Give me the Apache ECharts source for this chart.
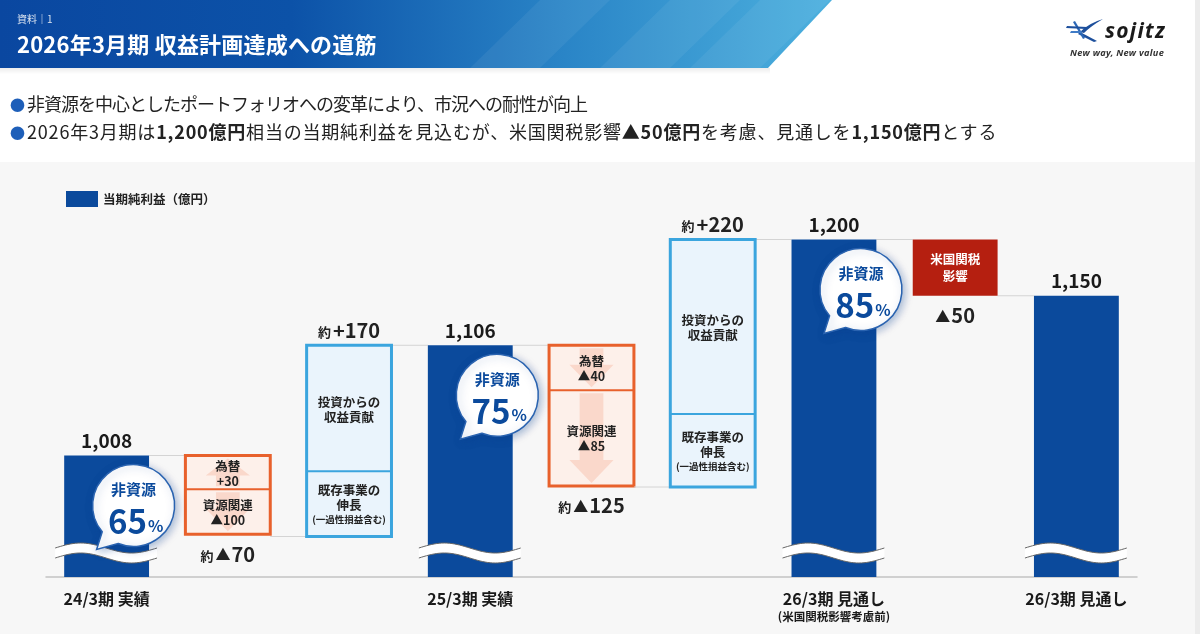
<!DOCTYPE html>
<html lang="ja">
<head>
<meta charset="utf-8">
<title>2026年3月期 収益計画達成への道筋</title>
<script src="https://cdn.jsdelivr.net/npm/echarts@6/dist/echarts.min.js"></script>
<style>
  html, body { margin: 0; padding: 0; width: 1200px; height: 634px; overflow: hidden; background: #fff;
    font-family: "Noto Sans CJK JP", "Noto Sans", sans-serif; color: #222; }
  #head { position: absolute; left: 0; top: 0; width: 832px; height: 68px; z-index: 3;
    background: linear-gradient(90deg, #0a47a0 0%, #0c52a8 35%, #2a85c7 68%, #4cb0de 100%);
    clip-path: polygon(0 0, 832px 0, 768px 68px, 0 68px); }
  #head .stripe { position: absolute; top: 0; height: 68px; width: 200px;
    background: rgba(255,255,255,0.06); clip-path: polygon(70px 0, 140px 0, 70px 68px, 0 68px); }
  #head .sub { position: absolute; left: 17px; top: 11px; font-size: 10px; color: rgba(255,255,255,0.85); }
  #head .title { position: absolute; left: 17px; top: 27px; font-size: 22px; font-weight: bold; color: #fff; letter-spacing: 0.2px; }
  #headShadow { position: absolute; left: 0; top: 68px; width: 770px; height: 6px; z-index: 2;
    background: linear-gradient(to bottom, rgba(0,0,0,0.07), rgba(0,0,0,0)); }
  #logo { position: absolute; left: 1060px; top: 12px; width: 120px; height: 56px; z-index: 3; }
  .bullets { position: absolute; left: 10px; top: 90px; z-index: 3; font-size: 18px; line-height: 27px; color: #222; white-space: nowrap; }
  .bullets .dot { color: #1e5fb9; font-size: 15px; margin-right: 2px; letter-spacing: 0; }
  .bullets .l1 { letter-spacing: -1px; }
  .bullets .l2 { letter-spacing: 0.8px; }
  .bullets b { font-weight: bold; }
  #panel { position: absolute; left: 0; top: 162px; width: 1195px; height: 472px; background: #f7f7f7; z-index: 0; }
  #edge { position: absolute; left: 1195px; top: 0; width: 5px; height: 634px; background: #ececec; z-index: 0; }
  #chart { position: absolute; left: 0; top: 0; width: 1200px; height: 634px; z-index: 1; }
</style>
</head>
<body>
<div id="panel"></div>
<div id="edge"></div>
<div id="head">
  <div class="stripe" style="left:470px"></div>
  <div class="stripe" style="left:600px"></div>
  <div class="stripe" style="left:690px"></div>
  <div class="sub">資料｜1</div>
  <div class="title">2026年3月期 収益計画達成への道筋</div>
</div>
<div id="headShadow"></div>
<svg id="logo" viewBox="0 0 120 56">
  <path d="M43 7 Q29 11 20 20 L24 21 Q31 14 43 7Z" fill="#1d4f9c"/>
  <path d="M20 20 L37 29 L34 30 L18 22Z" fill="#1d4f9c"/>
  <path d="M15 9 L25 26 L23 27 L13 10Z" fill="#2a66b5"/>
  <path d="M7 14 L27 15 L26 17 L6 16Z" fill="#1d4f9c"/>
  <path d="M11 19 L22 19 L21 21 L10 21Z" fill="#3f7bc6"/>
  <text x="45" y="26" font-family="Noto Sans, sans-serif" font-size="21" font-weight="bold" font-style="italic" letter-spacing="1.3" fill="#1a1a1a">sojitz</text>
  <text x="10" y="44" font-family="Noto Sans, sans-serif" font-size="9.2" font-weight="bold" font-style="italic" letter-spacing="0.3" fill="#333">New way, New value</text>
</svg>
<div class="bullets">
  <div><span class="dot">●</span><span class="l1">非資源を中心としたポートフォリオへの変革により、市況への耐性が向上</span></div>
  <div><span class="dot">●</span><span class="l2">2026年3月期は<b>1,200億円</b>相当の当期純利益を見込むが、米国関税影響<b>▲50億円</b>を考慮、見通しを<b>1,150億円</b>とする</span></div>
</div>
<div id="chart"></div>
<script>
// 区分（空欄は増減要因の位置）
const categories = ['24/3期 実績', '', '', '25/3期 実績', '', '', '26/3期 見通し\n(米国関税影響考慮前)', '', '26/3期 見通し'];
// 当期純利益（億円）
const profit = [1008, '-', '-', 1106, '-', '-', 1200, '-', 1150];
// 非資源比率（%）
const nonResourceShare = [65, null, null, 75, null, null, 85, null, null];

// 増減要因
const bridgeIndex = [1, 2, 4, 5, 7];
const bridgeDelta = [-70, 170, -125, 220, -50];
const bridgeLabel = ['約▲70', '約+170', '約▲125', '約+220', '▲50'];
const bridgeKind = ['res', 'inv', 'res', 'inv', 'tariff'];
// 上段の内訳（為替は符号付き、投資は図から読んだ幅）
const bridgeUpper = [30, 112, -40, 155, 0];
const upperText = ['為替\n+30', '投資からの\n収益貢献', '為替\n▲40', '投資からの\n収益貢献', '米国関税\n影響'];
const lowerText = ['資源関連\n▲100', '既存事業の\n伸長\n(一過性損益含む)', '資源関連\n▲85', '既存事業の\n伸長\n(一過性損益含む)', ''];

const yMin = 900, yMax = 1300;
const FONT = '"Noto Sans CJK JP", "Noto Sans", sans-serif';
const BLUE = '#0b4a9c';

const bridgeData = bridgeIndex.map(function (ci, k) {
  const d = bridgeDelta[k];
  let s, e;
  if (profit[ci - 1] !== '-') { s = profit[ci - 1]; e = s + d; }
  else { e = profit[ci + 1]; s = e - d; }
  return [ci, s, e, bridgeUpper[k], k];
});

const totalData = [];
profit.forEach(function (v, i) {
  if (v !== '-') totalData.push([i, v, nonResourceShare[i] || 0]);
});

function deltaRich(t) {
  const m = t.match(/^(約)?(▲)?(.*)$/);
  return (m[1] ? '{s|約}' : '') + (m[2] ? '{t|▲}' : '') + '{b|' + m[3] + '}';
}

function boxRich(t) {
  return t.split('\n').map(function (l) {
    return l.charAt(0) === '(' ? '{c|' + l + '}' : '{a|' + l + '}';
  }).join('\n');
}

function arrowPts(cx, yt, yb, w, up) {
  const sw = w * 0.14, hw = w * 0.26, hh = Math.min(23, (yb - yt) * 0.5);
  const a = yt + 3, b = yb - 3;
  if (!up) {
    return [[cx - sw, a], [cx + sw, a], [cx + sw, b - hh], [cx + hw, b - hh], [cx, b], [cx - hw, b - hh], [cx - sw, b - hh]];
  }
  return [[cx - sw, b], [cx + sw, b], [cx + sw, a + hh], [cx + hw, a + hh], [cx, a], [cx - hw, a + hh], [cx - sw, a + hh]];
}

const boxTextRich = {
  a: { fontSize: 12.5, fontWeight: 'bold', lineHeight: 15, fill: '#222', fontFamily: FONT },
  c: { fontSize: 9.5, fontWeight: 'bold', lineHeight: 14, fill: '#222', fontFamily: FONT }
};

function renderBridge(params, api) {
  const i = api.value(0), s = api.value(1), e = api.value(2), upper = api.value(3), k = api.value(4);
  const step = api.size([1, 0])[0];
  const w = step * 0.7;
  const ps = api.coord([i, s]), pe = api.coord([i, e]);
  const cx = ps[0];
  const top = Math.min(ps[1], pe[1]), bottom = Math.max(ps[1], pe[1]);
  const kind = bridgeKind[k];
  const ch = [];
  // 連結線
  ch.push({ type: 'line', shape: { x1: cx - step + w / 2, y1: ps[1], x2: cx - w / 2, y2: ps[1] },
    style: { stroke: '#d4d4d4', lineWidth: 1 } });
  if (profit[i + 1] !== undefined && profit[i + 1] !== '-') {
    ch.push({ type: 'line', shape: { x1: cx + w / 2, y1: pe[1], x2: cx + step - w / 2, y2: pe[1] },
      style: { stroke: '#d4d4d4', lineWidth: 1 } });
  }
  const x0 = cx - w / 2;
  if (kind === 'tariff') {
    ch.push({ type: 'rect', shape: { x: x0, y: top, width: w, height: bottom - top },
      style: { fill: '#b51f10' } });
    ch.push({ type: 'text', style: { text: upperText[k], x: cx, y: (top + bottom) / 2, align: 'center', verticalAlign: 'middle',
      fill: '#fff', fontSize: 12.5, fontWeight: 'bold', lineHeight: 17, fontFamily: FONT } });
  } else {
    const res = kind === 'res';
    const border = res ? '#e8612c' : '#3ba5de';
    const fill = res ? '#fdf0ea' : '#eaf4fc';
    const topVal = Math.max(s, e);
    const ySplit = api.coord([i, topVal - Math.abs(upper)])[1];
    ch.push({ type: 'rect', shape: { x: x0, y: top, width: w, height: bottom - top }, style: { fill: fill } });
    if (res) {
      const col = 'rgba(238,118,82,0.2)';
      ch.push({ type: 'polygon', shape: { points: arrowPts(cx, top, ySplit, w, upper > 0) }, style: { fill: col } });
      ch.push({ type: 'polygon', shape: { points: arrowPts(cx, ySplit, bottom, w, false) }, style: { fill: col } });
    }
    ch.push({ type: 'line', shape: { x1: x0, y1: ySplit, x2: x0 + w, y2: ySplit }, style: { stroke: border, lineWidth: 2 } });
    ch.push({ type: 'rect', shape: { x: x0, y: top, width: w, height: bottom - top },
      style: { fill: 'none', stroke: border, lineWidth: 3 } });
    ch.push({ type: 'text', style: { text: boxRich(upperText[k]), rich: boxTextRich, x: cx, y: (top + ySplit) / 2 + 1,
      align: 'center', verticalAlign: 'middle', fontFamily: FONT } });
    ch.push({ type: 'text', style: { text: boxRich(lowerText[k]), rich: boxTextRich, x: cx, y: (ySplit + bottom) / 2 + 1,
      align: 'center', verticalAlign: 'middle', fontFamily: FONT } });
  }
  // 増減ラベル
  const d = bridgeDelta[k];
  ch.push({ type: 'text', style: {
    text: deltaRich(bridgeLabel[k]), x: cx, y: d < 0 ? bottom + 20 : top - 15, align: 'center', verticalAlign: 'middle',
    rich: {
      s: { fontSize: 13, fontWeight: 'bold', fill: '#222', fontFamily: FONT, padding: [3, 2, 0, 0] },
      t: { fontSize: 15, fill: '#222', fontFamily: FONT, padding: [1, 1, 0, 0] },
      b: { fontSize: 20, fontWeight: 'bold', fill: '#222', fontFamily: FONT }
    } } });
  return { type: 'group', children: ch };
}

function renderTotal(params, api) {
  const i = api.value(0), v = api.value(1), pct = api.value(2);
  const step = api.size([1, 0])[0];
  const w = step * 0.7;
  const pt = api.coord([i, v]);
  const cx = pt[0], yTop = pt[1];
  const yBase = api.coord([i, yMin])[1];
  const ch = [];
  // 省略の波線
  const xl = cx - w / 2 - 9, xr = cx + w / 2 + 8, yc = yBase - 29, th = 10, amp = 5;
  const topPts = [], botPts = [];
  for (let n = 0; n <= 40; n++) {
    const t = n / 40;
    const x = xl + (xr - xl) * t;
    const y = yc - amp * Math.sin(2 * Math.PI * t);
    topPts.push([x, y]);
    botPts.push([x, y + th]);
  }
  ch.push({ type: 'polygon', shape: { points: topPts.concat(botPts.slice().reverse()) }, style: { fill: '#fff' } });
  ch.push({ type: 'polyline', shape: { points: topPts }, style: { stroke: '#666', lineWidth: 1, fill: 'none' } });
  ch.push({ type: 'polyline', shape: { points: botPts }, style: { stroke: '#666', lineWidth: 1, fill: 'none' } });
  // 非資源比率の吹き出し
  if (pct > 0) {
    const bx = cx + 27, by = yTop + 50, r = 41;
    const a1 = 140 * Math.PI / 180, a2 = 112 * Math.PI / 180;
    const p1 = [bx + r * Math.cos(a1), by + r * Math.sin(a1)];
    const p2 = [bx + r * Math.cos(a2), by + r * Math.sin(a2)];
    const tip = [bx - 37, by + 44];
    const d = 'M' + p2[0] + ' ' + p2[1] + ' L' + tip[0] + ' ' + tip[1] + ' L' + p1[0] + ' ' + p1[1] +
      ' A' + r + ' ' + r + ' 0 1 1 ' + p2[0] + ' ' + p2[1] + ' Z';
    ch.push({ type: 'path', shape: { pathData: d },
      style: { fill: '#fff', stroke: '#2a63b0', lineWidth: 1.5, shadowBlur: 8, shadowColor: 'rgba(10,60,140,0.35)', shadowOffsetX: 2, shadowOffsetY: 2 } });
    ch.push({ type: 'text', style: { text: '非資源', x: bx, y: by - 16, align: 'center', verticalAlign: 'middle',
      fill: BLUE, fontSize: 15, fontWeight: 'bold', fontFamily: FONT } });
    ch.push({ type: 'text', style: { text: '{n|' + pct + '}{p|%}', x: bx + 2, y: by + 16, align: 'center', verticalAlign: 'middle',
      rich: {
        n: { fontSize: 33, fontWeight: 'bold', fill: BLUE, fontFamily: FONT },
        p: { fontSize: 16, fontWeight: 'bold', fill: BLUE, fontFamily: FONT, padding: [8, 0, 0, 1] }
      } } });
  }
  return { type: 'group', children: ch };
}

const chart = echarts.init(document.getElementById('chart'), null, { renderer: 'canvas' });
chart.setOption({
  backgroundColor: 'transparent',
  animation: false,
  textStyle: { fontFamily: FONT },
  legend: {
    left: 61, top: 186, selectedMode: false, icon: 'rect', itemWidth: 32, itemHeight: 16,
    data: ['当期純利益（億円）'],
    textStyle: { fontSize: 12.5, fontWeight: 'bold', color: '#222', fontFamily: FONT }
  },
  grid: { left: 46, right: 63, top: 127, bottom: 57, containLabel: false, outerBoundsMode: 'none' },
  xAxis: {
    type: 'category', data: categories,
    axisLine: { lineStyle: { color: '#c4c4c4', width: 1.5 } },
    axisTick: { show: false },
    axisLabel: {
      interval: 0, margin: 12, color: '#1a1a1a', fontSize: 16, fontWeight: 'bold', lineHeight: 20, fontFamily: FONT,
      formatter: function (v) {
        const parts = v.split('\n');
        return parts.length > 1 ? parts[0] + '\n{s|' + parts[1] + '}' : v;
      },
      rich: { s: { fontSize: 11.5, fontWeight: 'bold', color: '#1a1a1a', lineHeight: 16, fontFamily: FONT } }
    }
  },
  yAxis: { type: 'value', min: yMin, max: yMax, show: false, splitLine: { show: false } },
  series: [
    {
      name: '当期純利益（億円）', type: 'bar', data: profit, barWidth: '70%',
      itemStyle: { color: BLUE }, z: 2,
      label: {
        show: true, position: 'top', distance: 5, color: '#1a1a1a', fontSize: 19, fontWeight: 'bold', fontFamily: FONT,
        formatter: function (p) { return Number(p.value).toLocaleString('en-US'); }
      }
    },
    {
      name: 'bridge', type: 'custom', data: bridgeData, renderItem: renderBridge,
      encode: { x: 0, y: [1, 2] }, z: 2, silent: true
    },
    {
      name: 'total-decor', type: 'custom', data: totalData, renderItem: renderTotal,
      encode: { x: 0, y: 1 }, z: 4, silent: true
    }
  ]
});
</script>
</body>
</html>
